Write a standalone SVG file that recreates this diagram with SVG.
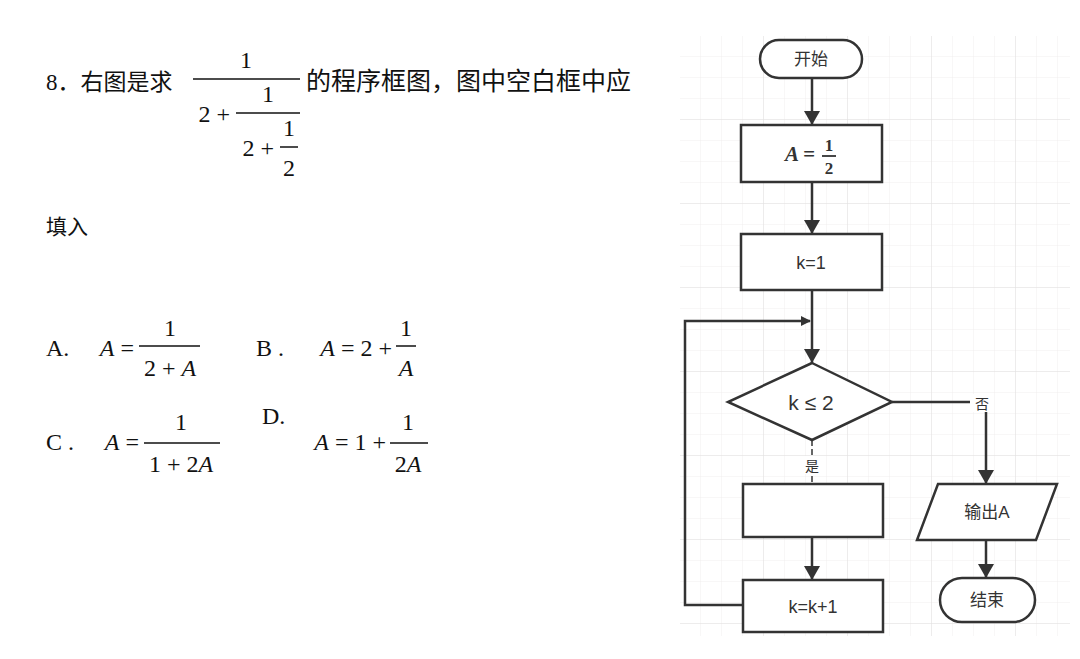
<svg xmlns="http://www.w3.org/2000/svg" width="1080" height="659" viewBox="0 0 1080 659">
<defs>
<pattern id="g" x="680" y="36" width="21" height="21" patternUnits="userSpaceOnUse"><path d="M21 0V21H0" fill="none" stroke="#f1eeee" stroke-width="1"/></pattern>
<pattern id="G" x="680" y="36" width="84" height="84" patternUnits="userSpaceOnUse"><path d="M84 0V84H0" fill="none" stroke="#e2e0e0" stroke-width="1"/></pattern>
<marker id="a" markerWidth="10" markerHeight="10" refX="9" refY="5" orient="auto" markerUnits="userSpaceOnUse" viewBox="0 0 10 10"><path d="M0 0L10 5L0 10z" fill="#333"/></marker>
<marker id="b" markerWidth="14" markerHeight="16" refX="14" refY="8" orient="auto" markerUnits="userSpaceOnUse" viewBox="0 0 14 16"><path d="M0 0L14 8L0 16z" fill="#333"/></marker>
</defs>
<style>
.s{fill:#fff;stroke:#333;stroke-width:2.5}
.c{fill:none;stroke:#333;stroke-width:2.5}
.f{font-family:"Liberation Sans","Noto Sans CJK SC",sans-serif;font-size:17px;fill:#333;text-anchor:middle}
.q{font-family:"Liberation Serif","Noto Sans CJK SC",serif;font-size:24px;fill:#111}
.m{font-family:"Liberation Serif",serif;font-size:24px;fill:#111;text-anchor:middle}
.r{font-family:"Liberation Serif",serif;font-size:24px;fill:#111;text-anchor:end}
.i{font-style:italic}
.l{stroke:#111;stroke-width:1.5}
</style>
<rect width="1080" height="659" fill="#fff"/>
<rect x="680" y="36" width="390" height="600" fill="url(#g)"/>
<rect x="680" y="36" width="390" height="600" fill="url(#G)"/>

<g id="question">
<text class="q" x="46" y="90" style="font-size:23px">8．右图是求</text>
<text class="m" x="246" y="68">1</text><line class="l" x1="193" y1="79" x2="300" y2="79"/>
<text class="r" x="230" y="122">2 +</text>
<text class="m" x="268" y="102">1</text><line class="l" x1="236" y1="113" x2="300" y2="113"/>
<text class="r" x="274" y="156">2 +</text>
<text class="m" x="289" y="136">1</text><line class="l" x1="280" y1="147" x2="298" y2="147"/>
<text class="m" x="289" y="176">2</text>
<text class="q" x="306" y="90" style="font-size:25px">的程序框图，图中空白框中应</text>
<text class="q" x="46" y="234" style="font-size:21px">填入</text>
<text class="q" x="46" y="356">A.</text><text class="r" x="134" y="356"><tspan class="i">A</tspan> =</text>
<text class="m" x="170" y="336">1</text><line class="l" x1="139" y1="346" x2="200" y2="346"/>
<text class="m" x="170" y="376">2 + <tspan class="i">A</tspan></text>
<text class="q" x="256" y="356">B .</text><text class="r" x="392" y="356"><tspan class="i">A</tspan> = 2 +</text>
<text class="m" x="406" y="336">1</text><line class="l" x1="396" y1="346" x2="416" y2="346"/>
<text class="m i" x="406" y="376">A</text>
<text class="q" x="46" y="450">C .</text><text class="r" x="139" y="450"><tspan class="i">A</tspan> =</text>
<text class="m" x="181" y="430">1</text><line class="l" x1="144" y1="443" x2="220" y2="443"/>
<text class="m" x="181" y="472">1 + 2<tspan class="i">A</tspan></text>
<text class="q" x="262" y="424">D.</text>
<text class="r" x="386" y="450"><tspan class="i">A</tspan> = 1 +</text>
<text class="m" x="408" y="430">1</text><line class="l" x1="390" y1="443" x2="428" y2="443"/>
<text class="m" x="408" y="472">2<tspan class="i">A</tspan></text>
</g>

<g id="connectors">
<line class="c" x1="812" y1="78" x2="812" y2="125" marker-end="url(#b)"/>
<line class="c" x1="812" y1="182" x2="812" y2="234" marker-end="url(#b)"/>
<line class="c" x1="812" y1="290" x2="812" y2="363" marker-end="url(#b)"/>
<polyline class="c" points="743,605 685,605 685,321 810,321" marker-end="url(#a)"/>
<polyline class="c" points="892,402 986,402 986,484" marker-end="url(#b)"/>
<line stroke="#666" stroke-width="2" x1="812" y1="440" x2="812" y2="484" stroke-dasharray="6 3"/>
<line class="c" x1="812" y1="537" x2="812" y2="580" marker-end="url(#b)"/>
<line class="c" x1="986" y1="540" x2="986" y2="578" marker-end="url(#b)"/>
<rect x="970" y="394" width="22" height="18" fill="#fff"/>
<text class="f" x="982" y="409" style="font-size:14px">否</text>
<rect x="802" y="456" width="20" height="18" fill="#fff"/>
<text class="f" x="812" y="471" style="font-size:14px">是</text>
</g>

<g id="start"><rect class="s" x="760" y="40" width="102" height="38" rx="19"/><text class="f" x="811" y="65">开始</text></g>
<g id="initA"><rect class="s" x="741" y="125" width="141" height="57"/>
<text x="800" y="161" style="font-family:'Liberation Serif',serif;font-size:21px;font-weight:bold;font-style:italic;fill:#333" text-anchor="middle">A =</text>
<text x="829" y="151" style="font-family:'Liberation Serif',serif;font-size:17px;font-weight:bold;fill:#333" text-anchor="middle">1</text>
<line x1="822" y1="156" x2="836" y2="156" stroke="#333" stroke-width="1.8"/>
<text x="829" y="174" style="font-family:'Liberation Serif',serif;font-size:17px;font-weight:bold;fill:#333" text-anchor="middle">2</text></g>
<g id="initK"><rect class="s" x="741" y="234" width="141" height="56"/><text class="f" x="811" y="269" style="font-size:18px">k=1</text></g>
<g id="cond"><polygon class="s" points="812,363 892,402 812,440 728,402"/><text class="f" x="811" y="410" style="font-size:21px">k ≤ 2</text></g>
<g id="blank"><rect class="s" x="743" y="484" width="140" height="53"/></g>
<g id="inc"><rect class="s" x="743" y="580" width="140" height="52"/><text class="f" x="813" y="613" style="font-size:18px">k=k+1</text></g>
<g id="output"><polygon class="s" points="938,484 1057,484 1036,540 917,540"/><text class="f" x="987" y="518">输出A</text></g>
<g id="end"><rect class="s" x="940" y="578" width="95" height="44" rx="22"/><text class="f" x="987" y="606">结束</text></g>
</svg>
